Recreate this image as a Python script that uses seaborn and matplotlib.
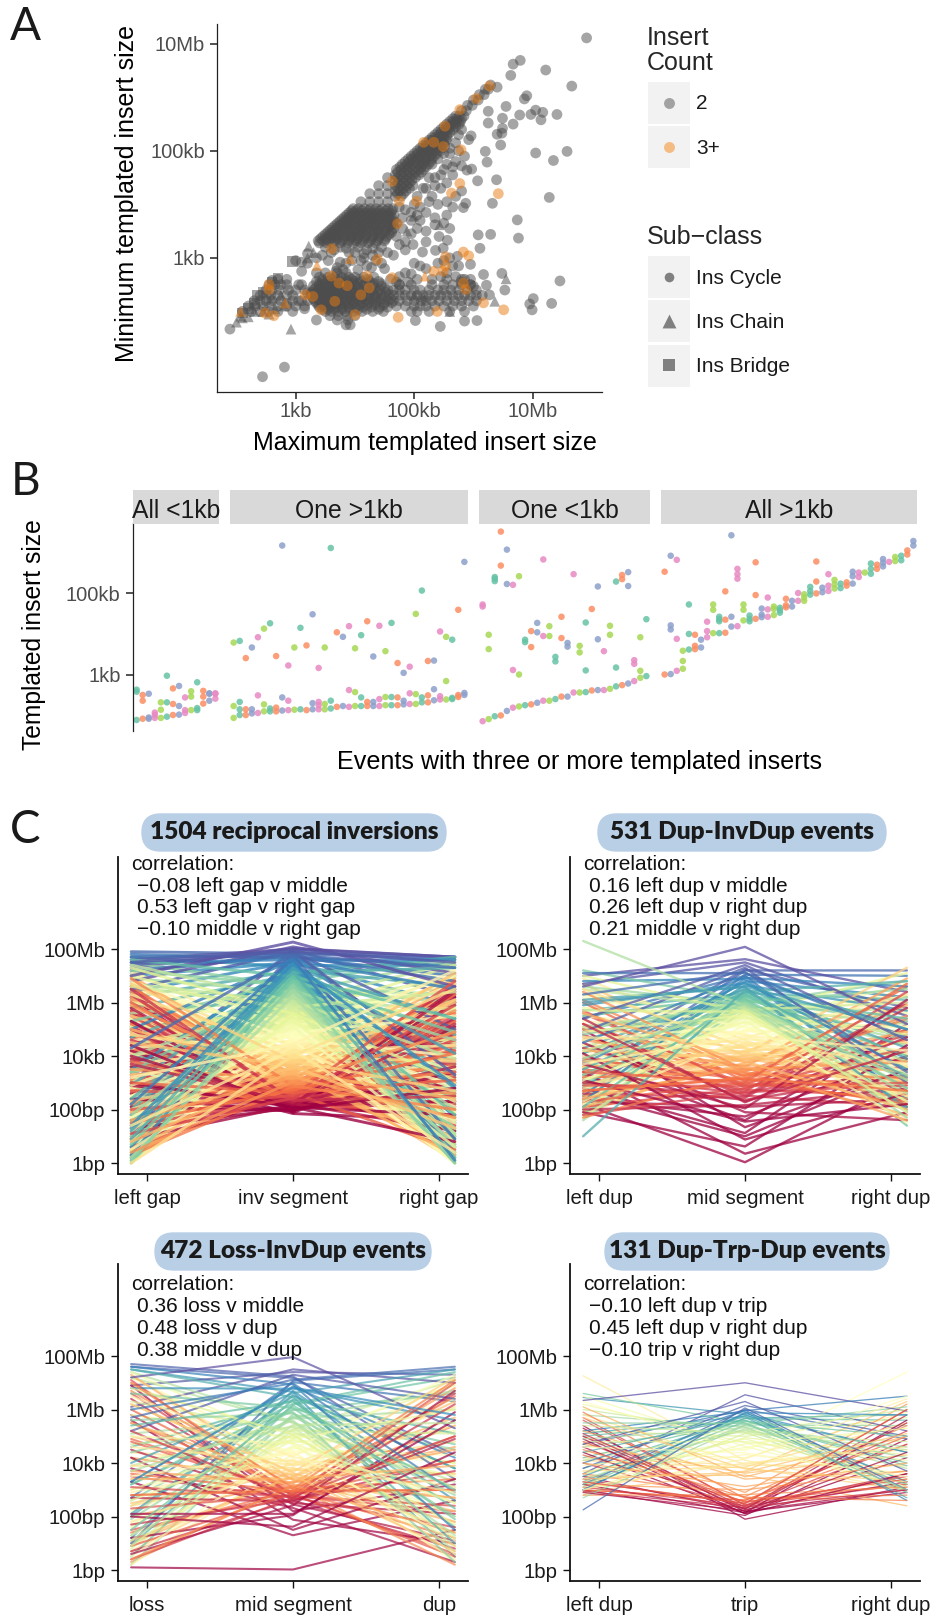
import numpy as np
import pandas as pd
import seaborn as sns
import matplotlib
matplotlib.use('Agg')
import matplotlib.pyplot as plt
from matplotlib.patches import FancyBboxPatch, Rectangle

# all sizes below are log10(bp)
# ---- panel A
far_x = [7.91,6.79,6.67,6.63,7.22,7.66,6.40,6.29,6.90,6.86,6.55,6.25,7.05,7.17,6.97,6.78,7.41,6.49,7.14,6.25,6.67,6.49,6.40,6.48,5.96,5.92,6.46,7.05,7.58,6.20,7.35,6.23,5.97,5.89,6.39,6.07,7.28,6.32,5.87,5.83,6.74,6.08,6.29,6.76,6.11,5.56,5.14,5.36,5.49,5.73,5.95,6.17,6.48,7.46,6.22,6.53,7.01,6.95,7.32,6.99,6.06,5.85,5.44,5.02,6.27,6.00,5.79,1.89,2.81,2.44]
far_y = [7.11,6.69,6.62,6.41,6.51,6.21,6.19,6.23,6.03,5.97,5.83,5.74,5.76,5.72,5.68,5.67,5.68,5.61,5.58,5.52,5.50,5.42,5.31,5.33,5.28,5.21,5.11,4.96,4.99,4.99,4.82,4.79,4.66,4.64,4.46,4.44,4.13,4.02,4.02,3.94,3.71,3.43,3.44,3.37,3.18,3.33,3.11,3.14,3.18,3.03,2.88,2.69,2.71,2.57,2.49,2.40,2.24,2.14,2.15,2.03,1.83,1.82,1.72,1.83,2.31,2.47,2.55,1.67,0.96,0.78]
scatter_x = [5.2,5.35,5.5,5.7,5.8,5.85,5.6,5.75,5.3,5.45,5.55,5.65,5.1,5.25,5.4,5.55,5.7,5.8,5.05,5.2,5.35,5.55,5.65,4.95,5.05,5.2,5.35,5.5,4.8,4.95,4.7,4.75,4.85,4.98,5.2,5.42,5.6,4.45,4.3,4.2,4.05,3.9,3.75,4.55,4.65,4.85,3.6,3.45,3.75,3.85,3.7,4.1,4.15,4.2,4.35,4.45,4.5,4.05,3.55,3.35,3.2,3.1,4.75,4.85,4.95,5.0,5.1,5.2,5.45,5.55,5.65,5.5,5.6,5.75,5.7,5.85,5.95,5.4,5.8,5.88,5.9,5.98,6.0,6.08,6.1,6.18,6.2,6.25,2.6,3.0,3.1,3.2,
             5.3,5.4,5.5,5.6,5.7,5.75,5.8,5.55,5.45,5.65,5.35,5.25,5.15,5.05,5.0,4.85,4.75,4.8,4.7,4.95,5.1,
             3.5,3.65,3.85,4.0,4.15,4.3,4.4,3.95,4.28,3.68,3.8,
             2.75,2.95,3.05,3.15,2.85,3.2,
             4.7,4.6,4.75,4.9,5.05,5.3,5.55,5.8,5.95]
scatter_y = [4.3,4.5,4.65,4.8,4.72,4.9,4.95,5.0,4.15,4.3,4.4,4.55,3.95,4.05,4.0,4.05,4.15,4.25,3.8,3.85,3.75,3.8,3.95,3.7,3.55,3.5,3.62,3.65,3.55,3.45,3.4,3.25,3.3,3.25,3.3,3.4,3.55,3.2,3.18,3.15,3.2,3.1,3.2,3.1,3.05,3.15,3.1,3.05,2.92,2.9,2.82,2.95,3.0,2.85,2.95,2.9,2.8,2.78,2.95,3.0,2.9,2.75,2.65,2.72,2.7,2.9,2.85,2.8,2.65,2.72,2.85,2.95,3.0,2.85,2.65,2.6,2.5,2.9,5.75,5.75,5.85,5.85,5.95,5.95,6.05,6.05,6.15,6.15,2.58,2.95,2.92,3.08,
             4.75,4.85,4.95,5.05,5.15,5.3,5.4,4.75,4.55,4.7,4.35,4.5,4.3,4.15,4.0,3.9,3.95,3.75,3.65,3.85,3.7,
             3.2,3.15,3.18,3.1,3.08,3.05,3.1,2.95,2.82,2.75,2.78,
             2.5,2.3,2.2,2.05,2.15,2.35,
             2.55,2.6,2.5,2.55,2.6,2.6,2.6,2.6,2.6]

# dense clouds: one list of x values per y level
cloud_y = [3.28,3.36,3.44,3.52,3.60,3.68,3.76,3.84,3.92,
           4.05,4.2,4.35,4.5,
           4.15,4.25,4.35,4.45,4.55,4.65,4.75,4.85,4.95,5.05,5.15,5.25,5.35,5.45,5.55,5.65,
           2.72,2.64,2.56,2.48,2.40,2.32,2.24,2.16,2.08,2.0,1.92,1.84,1.75,
           2.5,2.4,2.3,2.2,2.1,2.0,
           2.6,2.5,2.4,2.3,2.2,2.1,2.0,
           3.32,3.40,3.48,3.56,3.64,3.72,3.80,3.88,
           4.2,4.3,4.4,4.5,4.6,4.7,4.8,4.9,5.0,5.1,5.2,5.3,5.4,5.5,5.6,
           2.6,2.52,2.44,2.36,2.28,2.2,2.12,2.04]
cloud_x = [[3.40,3.52,3.62,3.75,3.88,3.98,4.1,4.22,4.35],
           [3.42,3.5,3.6,3.7,3.82,3.93,4.04,4.16,4.28,4.4,4.52],
           [3.5,3.58,3.68,3.78,3.9,4.0,4.1,4.2,4.33,4.45,4.58],
           [3.58,3.66,3.76,3.86,3.96,4.08,4.18,4.3,4.4,4.52,4.62],
           [3.66,3.74,3.84,3.94,4.06,4.15,4.26,4.36,4.48,4.6],
           [3.74,3.82,3.92,4.02,4.12,4.24,4.34,4.44,4.56,4.66],
           [3.82,3.9,4.0,4.1,4.2,4.3,4.42,4.52,4.62],
           [3.9,3.98,4.08,4.18,4.28,4.38,4.48,4.6],
           [3.97,4.06,4.16,4.26,4.36,4.46,4.56,4.64],
           [4.1,4.25,4.4,4.55],[4.25,4.4,4.55],[4.4,4.55],[4.55],
           [4.68,4.78],[4.68,4.76,4.86],[4.68,4.78,4.88,4.98],[4.68,4.76,4.86,4.96],
           [4.68,4.78,4.88,4.98,5.08],[4.7,4.78,4.88,4.98,5.08,5.16],[4.8,4.88,4.96,5.06,5.14,5.24],
           [4.9,4.96,5.04,5.12,5.2,5.3],[5.0,5.06,5.14,5.22,5.3,5.38],[5.1,5.16,5.22,5.3,5.38,5.46],
           [5.2,5.26,5.32,5.4,5.5],[5.3,5.36,5.42,5.5,5.56],[5.4,5.46,5.52,5.6],
           [5.5,5.56,5.62,5.7],[5.6,5.66,5.72,5.78],[5.7,5.76,5.84],
           [3.35,3.5,3.7,3.85],
           [3.4,3.55,3.66,3.78,3.9,4.0,4.15,4.32],
           [3.35,3.45,3.55,3.65,3.75,3.87,3.98,4.1,4.25,4.4],
           [3.3,3.4,3.5,3.6,3.7,3.8,3.9,4.02,4.14,4.3,4.45],
           [3.3,3.38,3.48,3.58,3.66,3.76,3.86,3.96,4.06,4.18,4.3,4.42,4.56],
           [3.25,3.33,3.42,3.5,3.6,3.68,3.78,3.88,3.98,4.08,4.2,4.32,4.44,4.58],
           [3.3,3.38,3.46,3.54,3.64,3.72,3.82,3.92,4.02,4.12,4.22,4.34,4.46,4.6],
           [3.35,3.43,3.52,3.6,3.7,3.8,3.9,4.0,4.12,4.24,4.36,4.5,4.62],
           [3.4,3.5,3.58,3.68,3.78,3.9,4.02,4.14,4.28,4.42,4.55],
           [3.5,3.6,3.72,3.84,3.98,4.12,4.3,4.48],
           [3.58,3.72,3.86,4.0],[3.35,3.7,3.88],[3.85,3.92],
           [4.75,4.95,5.3,5.5,5.65,5.8,5.95],
           [4.65,4.75,4.85,5.0,5.1,5.25,5.4,5.5,5.62,5.75,5.9,6.05],
           [4.65,4.75,4.85,4.95,5.05,5.15,5.25,5.35,5.45,5.55,5.65,5.75,5.85,5.95,6.05,6.15],
           [4.65,4.75,4.88,5.0,5.12,5.2,5.3,5.42,5.55,5.68,5.8,5.92,6.05],
           [4.7,4.85,5.0,5.1,5.2,5.35,5.5,5.65,5.8,6.0],
           [4.95,5.05,5.25,5.6,5.85],
           [2.7,2.85],[2.55,2.65,2.85,3.05,3.1],[2.5,2.6,2.72,2.88,3.0,3.15],[2.4,2.5,2.58,2.7,2.85],
           [2.3,2.4,2.5,2.6,2.75,2.95,3.1,3.2],[2.2,2.32,2.45,2.55,2.7,2.85,3.0,3.15],[2.1,2.25,2.4,2.55,2.7,2.95],
           [3.38,3.46,3.56,3.66,3.78,3.9,4.02,4.14,4.26,4.38,4.5],
           [3.46,3.54,3.64,3.74,3.85,3.96,4.06,4.18,4.3,4.42,4.54],
           [3.54,3.62,3.72,3.82,3.94,4.04,4.14,4.26,4.38,4.5,4.62],
           [3.62,3.7,3.8,3.9,4.02,4.12,4.22,4.34,4.44,4.56,4.66],
           [3.7,3.78,3.88,3.98,4.1,4.2,4.3,4.42,4.54,4.64],
           [3.78,3.86,3.96,4.06,4.16,4.28,4.38,4.48,4.6],
           [3.86,3.94,4.04,4.14,4.24,4.34,4.46,4.56,4.66],
           [3.94,4.02,4.12,4.22,4.32,4.42,4.52,4.62],
           [4.72,4.82],[4.72,4.82,4.92],[4.72,4.82,4.92],[4.72,4.82,4.92,5.02],[4.72,4.82,4.92,5.02,5.12],
           [4.76,4.84,4.92,5.02,5.12,5.2],[4.85,4.92,5.0,5.1,5.18,5.28],[4.95,5.02,5.1,5.18,5.26,5.34],
           [5.05,5.12,5.2,5.28,5.36,5.44],[5.15,5.2,5.28,5.36,5.44,5.52],[5.25,5.3,5.38,5.46,5.54],
           [5.35,5.42,5.48,5.56],[5.45,5.52,5.58,5.66],[5.55,5.62,5.68,5.76],[5.65,5.72,5.8],
           [3.45,3.6,3.72,3.84,3.95,4.08,4.22],
           [3.4,3.5,3.6,3.7,3.82,3.94,4.04,4.18,4.32,4.44],
           [3.34,3.44,3.54,3.64,3.74,3.84,3.94,4.06,4.2,4.34,4.5],
           [3.28,3.36,3.46,3.54,3.64,3.72,3.82,3.92,4.02,4.14,4.26,4.38,4.52],
           [3.28,3.36,3.44,3.54,3.62,3.72,3.82,3.92,4.02,4.12,4.24,4.36,4.5],
           [3.32,3.4,3.5,3.58,3.68,3.76,3.86,3.96,4.06,4.18,4.3,4.42,4.56],
           [3.38,3.46,3.56,3.64,3.74,3.86,3.96,4.08,4.2,4.34,4.48],
           [3.45,3.55,3.66,3.78,3.9,4.05,4.2,4.4]]

tri_x = [2.0,2.1,2.2,2.3,2.45,2.55,2.65,2.8,2.6,2.75,3.3,3.2,2.92,3.22,4.99,5.43,4.88,6.55,6.36,5.6,2.07,5.0,5.15]
tri_y = [1.8,1.88,1.9,2.0,2.0,1.95,2.05,2.1,2.25,2.3,3.1,3.0,1.67,3.22,3.78,3.62,3.5,2.61,2.19,2.0,1.91,2.3,2.28]
square_x = [2.1,2.2,2.3,2.35,2.45,2.6,2.95,2.7]
square_y = [1.97,2.05,2.15,2.3,2.35,2.55,2.94,2.62]
orange_x = [6.27,6.05,5.77,5.52,5.33,5.16,5.49,5.79,4.63,4.75,5.04,5.77,6.42,5.63,4.72,3.61,4.38,5.53,5.83,5.92,5.49,5.33,5.53,4.63,4.2,3.6,3.73,3.87,4.1,3.29,3.16,3.66,3.43,4.0,4.73,5.39,6.17,6.51,2.55,2.55,2.63,2.48,5.83,5.87,4.24]
orange_y = [6.21,5.98,5.77,5.46,5.16,5.16,5.08,5.02,4.43,4.06,4.06,4.39,4.2,4.21,3.64,3.17,2.97,3.02,3.11,3.04,2.75,2.75,2.85,2.63,2.66,2.66,2.53,2.48,2.31,2.28,2.31,2.19,2.03,1.94,1.89,2.0,2.16,2.03,2.41,2.5,1.92,1.97,2.53,2.41,2.44]
orange_tri_x = [3.36,3.92,5.18,2.07,2.82]
orange_tri_y = [2.86,2.99,2.66,2.0,2.16]

# ---- panel B: one list per event
b_all_small = [[2.64,2.59,1.90],[2.51,2.37,1.93],[2.54,1.96,1.93],[2.08,2.02,1.95],[2.33,2.15,1.95],
               [2.98,2.33,1.98],[2.67,2.29,2.02],[2.73,2.24,2.03],[2.45,2.14,2.07],[2.60,2.47,2.14],
               [2.82,2.19,2.14],[2.61,2.47,2.30],[2.55,2.54,2.37],[2.55,2.54,2.42]]
b_one_big = [[3.79,2.24,1.95],[3.83,2.34,2.16,2.02],[3.41,2.16,2.02],[3.67,2.16,2.06],[3.92,2.50,2.07],
             [4.13,2.28,2.11],[4.26,2.18,2.11],[3.46,2.20,2.11],[6.16,2.45,2.13],[3.23,2.37,2.14],
             [3.67,2.15],[4.15,2.16],[3.72,2.14],[4.48,2.31,2.16],[3.17,2.34,2.26,2.16],
             [3.67,2.29,2.16],[6.10,2.37,2.18],[4.04,2.22],[3.93,2.24],[4.19,2.63,2.22],
             [3.65,2.58,2.24],[3.97,2.45,2.24],[4.31,2.34,2.24],[3.45,2.34,2.24],[4.20,2.41,2.24],
             [3.58,2.46,2.26],[4.27,2.46,2.26],[3.29,2.45,2.26],[3.05,2.37,2.28],[3.20,2.55,2.29],
             [4.49,2.53,2.29],[5.06,2.45,2.33],[3.34,2.50,2.33],[3.35,2.65,2.38],[4.06,2.48,2.40],
             [3.93,2.85,2.40],[3.86,2.44,2.41],[4.59,2.51,2.46],[5.76,2.56,2.51]]
b_one_small = [[4.72,4.67,1.87],[3.98,3.63,1.92],[5.39,5.35,5.29,1.99],[6.50,5.67,2.01],[6.06,5.22,2.12],
               [5.20,3.12,2.20],[5.41,3.01,2.23],[3.86,3.80,2.26],[4.07,3.68,2.28],[4.27,4.04,2.32],
               [5.82,3.95,2.37],[4.19,3.95,2.37],[3.44,3.33,2.41],[4.42,3.90,2.47],[3.78,3.69,2.47],
               [5.46,2.57],[3.71,3.55,2.57],[4.28,3.11,2.58],[4.61,2.62],[5.16,3.87,2.63],
               [3.58,2.63],[4.20,3.98,2.66],[5.28,3.18,2.72],[5.44,5.34,2.75],[5.51,5.17,2.79],
               [3.36,3.27,2.85],[3.92,3.10,2.93],[4.36,2.97]]
b_all_big = [[5.52,3.01],[5.91,4.21,4.11,3.02],[5.81,3.88,3.10],[3.59,3.34,3.15],[4.72,4.00,3.62],
             [3.98,3.71,3.63],[3.86,3.67],[4.30,4.07,3.92],[4.72,4.59,4.02],[4.42,4.36,4.31,4.02],
             [5.04,4.35,4.03],[6.41,4.42,4.18],[5.59,5.46,5.35,4.19],[4.72,4.59,4.33],[4.45,4.37,4.31],
             [5.75,4.95,4.37],[4.62,4.47,4.41],[4.89,4.60,4.42],[4.67,4.61,4.46],[4.64,4.58,4.52],
             [4.86,4.70,4.65],[4.81,4.67],[5.00,4.81],[4.97,4.89,4.81],[5.15,5.05,4.96],
             [5.77,5.28,4.99],[5.13,5.02],[5.46,5.18,5.05],[5.32,5.21,5.11],[5.23,5.12],
             [5.26,5.18],[5.52,5.41,5.23],[5.50,5.39],[5.50],[5.72,5.59,5.47],
             [5.69,5.59],[5.83,5.74,5.65],[5.76],[5.88,5.78],[5.91,5.80],[6.04,5.94],[6.27,6.16]]
b_titles = ['All <1kb', 'One >1kb', 'One <1kb', 'All >1kb']

# ---- panel C: lines get their colour from the rank of the middle value
inv_mid = [1.85,1.88,1.95,2.00,2.03,2.06,2.09,2.12,2.15,2.18,
           2.20,2.23,2.26,2.29,2.31,2.34,2.37,2.40,2.43,2.46,
           2.49,2.52,2.55,2.58,2.61,2.64,2.67,2.70,2.73,2.77,
           2.80,2.84,2.88,2.92,2.96,3.00,3.04,3.08,3.12,3.17,
           3.22,3.27,3.32,3.37,3.42,3.47,3.52,3.57,3.62,3.67,
           3.72,3.77,3.82,3.87,3.92,3.97,4.02,4.07,4.12,4.17,
           4.22,4.27,4.32,4.38,4.44,4.50,4.56,4.62,4.68,4.74,
           4.80,4.86,4.92,4.98,5.04,5.10,5.16,5.22,5.28,5.34,
           5.40,5.46,5.52,5.58,5.64,5.70,5.76,5.82,5.88,5.94,
           6.00,6.05,6.10,6.15,6.20,6.25,6.30,6.35,6.40,6.45,
           6.50,6.55,6.60,6.65,6.70,6.74,6.78,6.82,6.86,6.90,
           6.94,6.98,7.02,7.06,7.10,7.14,7.18,7.22,7.26,7.30,
           7.34,7.38,7.42,7.46,7.50,7.54,7.58,7.62,7.66,7.70,
           7.74,7.78,7.82,7.86,7.90,7.94,7.98,8.02,8.08,8.26,
           1.92,1.97,2.02,2.05,2.08,2.11,2.14,2.17,2.19,2.22,
           2.24,2.27,2.3,2.33,2.35,2.38,2.41,2.44,2.47,2.5,
           2.54,2.59,2.63,2.68,2.72,2.78,2.83,2.9,2.98,3.06,
           3.14,3.24,3.34,3.44,3.54,3.64,3.74,3.84,3.94,4.04,
           4.14,4.24,4.34,4.46,4.58,4.7,4.82,4.94,5.06,5.18,
           5.3,5.42,5.54,5.66,5.78,5.9,6.02,6.12,6.22,6.32,
           6.42,6.52,6.62,6.72,6.8,6.88,6.96,7.04,7.12,7.2,
           7.28,7.36,7.44,7.52,7.6,7.68,7.76,7.84,7.92,8.0]
inv_left = [3.4,5.6,2.1,4.4,6.2,1.3,3.0,5.1,0.9,4.0,
            2.6,5.8,3.7,1.8,4.6,6.5,2.9,4.9,1.1,6.6,
            3.3,2.0,5.3,0.6,3.8,6.0,2.4,4.3,1.5,5.7,
            3.1,0.3,6.9,4.7,2.2,5.9,0.4,4.2,6.4,3.5,
            1.6,7.0,2.7,5.0,0.8,3.9,6.1,1.9,4.5,0.2,
            5.5,2.3,6.7,3.6,1.0,4.8,0.0,5.2,2.8,6.3,
            1.4,4.1,7.2,0.5,3.2,5.4,2.5,6.8,0.1,3.7,
            4.6,1.7,5.8,0.7,7.1,2.9,0.0,4.0,6.0,1.2,
            3.4,5.1,0.3,7.3,2.1,0.9,4.4,6.6,1.5,0.0,
            3.0,7.4,0.6,5.6,2.4,0.2,4.2,1.1,6.9,1.8,
            0.4,3.3,7.5,0.1,2.6,1.3,5.3,0.7,3.8,0.0,
            1.6,7.6,0.5,4.7,2.0,0.9,6.2,0.3,2.9,1.2,
            7.7,0.6,3.5,1.4,7.0,0.2,5.0,2.2,7.8,0.8,
            7.2,4.3,7.9,1.0,6.5,7.5,3.0,7.3,6.8,7.0,
            4.7,2.4,6.1,3.6,5.3,1.6,4.2,2.9,6.4,3.9,
            5.0,2.2,4.5,6.3,3.2,5.7,1.4,3.8,5.5,2.7,
            4.1,6.0,3.0,5.2,1.9,4.8,6.6,3.5,2.3,5.6,
            0.9,4.4,6.2,2.6,0.5,5.4,3.3,1.2,4.9,6.8,
            2.0,0.3,3.7,5.9,1.3,0.1,4.3,6.5,2.5,0.6,
            7.0,3.1,0.8,5.1,1.7,0.2,6.7,2.8,4.0,0.4,
            1.0,2.2,7.2,0.6,3.4,1.5,0.1,5.8,2.4,0.7,
            1.3,3.6,0.3,6.4,7.5,1.8,7.7,7.1,7.4,7.6]
inv_right = [1.6,4.3,6.0,2.8,3.5,5.4,0.8,4.8,2.3,6.4,
             3.1,1.2,5.2,3.9,6.7,2.5,4.5,3.2,5.9,1.4,
             4.6,6.8,2.2,3.7,0.5,5.0,2.9,6.3,4.1,1.0,
             5.6,3.4,2.0,6.6,6.1,2.6,4.9,0.7,3.6,5.7,
             1.7,4.2,6.9,0.3,2.4,5.3,3.0,7.1,1.3,4.7,
             0.1,6.0,2.7,5.1,0.9,3.8,6.5,1.9,7.0,4.4,
             0.4,3.3,5.8,1.5,7.2,2.1,0.0,4.0,6.2,0.8,
             2.8,5.5,1.1,7.3,3.5,0.2,4.8,6.7,2.3,0.6,
             5.2,1.6,7.4,3.1,0.0,4.5,1.0,6.4,2.5,0.3,
             7.5,3.9,0.7,5.7,1.3,0.1,3.0,7.6,2.0,4.6,
             0.5,6.0,1.8,0.0,3.6,7.7,1.1,4.9,0.3,2.7,
             0.9,5.4,1.5,3.2,7.7,0.2,2.2,6.6,0.6,4.1,
             1.2,7.4,0.4,2.9,5.9,1.7,7.6,0.1,3.7,7.0,
             6.8,7.3,3.4,7.7,5.0,7.5,6.2,7.7,7.1,6.6,
             5.1,3.4,2.6,6.2,1.8,4.6,3.0,6.5,2.1,5.7,
             3.6,6.0,2.3,4.9,1.5,3.8,5.5,2.7,6.3,4.2,
             1.2,5.3,3.1,6.6,4.4,2.0,3.3,5.9,1.7,4.7,
             6.4,2.5,0.6,5.0,3.9,1.4,6.1,0.8,3.0,5.6,
             0.2,4.1,6.7,1.6,0.0,5.2,2.9,0.5,7.0,3.5,
             1.9,0.4,5.8,3.2,0.1,6.9,1.1,4.3,0.7,2.4,
             0.3,6.3,1.3,2.6,0.0,4.8,1.8,0.6,7.3,3.7,
             5.4,1.0,2.8,0.2,6.5,7.4,0.9,7.6,3.3,7.7]

dup_mid = [0.03,0.35,0.62,0.88,1.12,1.34,1.55,1.74,1.9,2.04,
           2.16,2.27,2.36,2.44,2.52,2.6,2.67,2.74,2.81,2.88,
           2.94,3.0,3.06,3.12,3.18,3.24,3.3,3.36,3.42,3.48,
           3.54,3.6,3.67,3.74,3.8,3.87,3.94,4.0,4.07,4.14,
           4.2,4.28,4.36,4.44,4.52,4.6,4.68,4.76,4.84,4.92,
           5.0,5.08,5.16,5.24,5.32,5.4,5.46,5.52,5.58,5.63,
           5.68,5.72,5.76,5.8,5.84,5.88,5.92,5.96,6.0,6.05,
           6.1,6.16,6.22,6.28,6.34,6.4,6.46,6.52,6.58,6.65,
           6.72,6.8,6.88,6.96,7.04,7.14,7.24,7.4,7.62,8.08,
           1.0,1.6,2.1,2.3,2.5,2.65,2.78,2.9,3.03,3.15,
           3.27,3.39,3.51,3.63,3.77,3.9,4.03,4.17,4.32,4.48,
           4.64,4.8,4.96,5.12,5.28,5.44,5.55,5.66,5.7,5.74,
           5.78,5.82,5.86,5.9,5.94,5.98,6.02,6.08,6.14,6.25,
           6.36,6.48,6.6,6.75,6.92,7.0,7.1,7.2,7.3,7.5]
dup_left = [2.2,3.4,1.9,4.1,2.8,5.0,3.1,2.4,4.5,3.7,
            2.0,5.4,3.0,2.6,4.8,3.3,1.8,4.0,5.7,2.9,
            3.5,2.3,6.0,3.9,2.7,5.2,1.7,4.3,3.2,6.4,
            2.5,4.6,3.6,2.1,5.6,3.0,4.2,6.7,2.4,3.8,
            1.8,5.1,3.4,2.9,4.7,6.9,2.2,3.7,5.5,4.0,
            2.6,6.2,1.9,4.4,3.1,5.8,2.3,4.9,3.6,7.0,
            2.0,4.2,3.3,6.5,2.7,8.3,1.6,3.9,5.0,2.4,
            7.2,3.0,4.6,2.1,5.7,3.5,1.0,4.1,6.1,2.8,
            5.9,3.2,6.8,4.5,2.5,6.3,3.8,5.4,7.0,6.6,
            2.6,3.8,2.3,5.2,3.0,4.3,2.1,5.6,3.4,2.7,
            4.7,6.1,3.2,2.4,5.0,3.6,1.9,4.4,6.5,2.8,
            3.9,5.3,2.2,4.6,3.1,6.3,2.5,5.7,1.7,4.1,
            3.0,2.0,5.1,3.5,6.6,2.6,4.8,1.8,3.3,5.5,
            2.9,4.3,6.0,3.7,2.3,5.4,7.1,3.1,4.9,6.7]
dup_right = [3.1,1.9,4.4,2.6,5.2,3.5,2.2,4.0,1.6,6.1,
             2.8,4.7,3.3,5.8,2.1,3.9,6.4,2.5,4.3,3.0,
             5.0,2.3,3.6,6.6,2.7,4.6,3.2,1.8,5.5,3.8,
             2.4,6.9,3.1,4.9,2.0,5.3,3.4,4.1,7.3,2.6,
             4.5,1.7,5.9,3.0,3.7,2.2,6.3,4.2,2.8,5.1,
             3.3,2.5,6.7,4.0,1.5,5.6,3.6,2.3,7.1,4.8,
             2.9,6.0,3.5,1.9,5.2,2.6,4.4,3.1,6.5,2.1,
             4.7,1.4,3.8,5.4,2.7,6.8,3.2,4.3,2.0,5.7,
             3.9,6.2,2.4,5.0,7.0,3.4,5.8,4.6,6.4,5.2,
             3.5,5.0,2.4,4.2,6.0,2.9,4.8,3.2,6.7,2.2,
             5.4,2.7,3.9,1.6,5.9,3.0,4.5,6.3,2.5,3.6,
             4.1,2.0,6.5,3.4,5.1,2.6,4.9,1.9,3.8,6.2,
             2.3,5.7,3.1,4.6,1.7,6.8,3.3,5.3,2.8,4.0,
             6.1,2.1,5.0,3.5,6.6,2.4,4.7,7.2,3.0,5.5]

loss_mid = [0.02,1.3,1.62,1.88,2.05,2.2,2.32,2.42,2.5,2.56,
            2.6,2.64,2.68,2.71,2.74,2.77,2.8,2.83,2.86,2.9,
            2.94,2.98,3.02,3.07,3.12,3.18,3.24,3.3,3.36,3.42,
            3.48,3.54,3.6,3.67,3.74,3.82,3.9,3.98,4.06,4.14,
            4.22,4.3,4.38,4.46,4.54,4.62,4.7,4.78,4.86,4.94,
            5.02,5.1,5.18,5.26,5.34,5.42,5.5,5.58,5.66,5.74,
            5.82,5.9,5.98,6.06,6.14,6.22,6.3,6.38,6.46,6.54,
            6.62,6.7,6.78,6.86,6.94,7.02,7.12,7.24,7.5,7.96,
            1.5,2.1,2.45,2.62,2.7,2.76,2.82,2.88,2.96,3.05,
            3.15,3.27,3.39,3.51,3.64,3.78,3.94,4.1,4.26,4.42,
            4.58,4.74,4.9,5.06,5.22,5.38,5.54,5.7,5.86,6.02,
            6.18,6.34,6.5,6.66,6.82,6.98,7.08,7.18,7.3,7.4]
loss_left = [0.1,3.3,2.0,5.6,1.2,6.9,3.8,0.6,4.5,2.7,
             6.4,1.7,5.2,0.4,3.1,7.1,2.3,4.8,0.9,6.0,
             3.6,1.4,5.5,2.8,6.7,0.3,4.2,2.0,7.3,3.4,
             1.0,5.0,2.5,6.2,0.7,3.9,7.0,1.8,4.6,2.9,
             6.5,1.3,3.5,5.3,0.5,2.2,7.4,4.1,1.6,5.8,
             3.0,0.8,6.3,2.4,4.7,1.1,7.2,3.7,5.1,1.9,
             0.2,4.4,2.6,6.6,1.5,3.2,5.4,0.9,7.5,2.1,
             4.0,1.2,6.8,3.3,7.6,2.7,5.7,7.7,6.1,7.2,
             4.2,2.1,5.8,0.7,3.5,6.6,1.5,4.9,2.8,7.0,
             0.4,3.7,5.5,1.1,6.2,2.4,4.4,0.2,7.2,3.0,
             1.7,5.0,2.6,6.8,0.9,3.9,7.4,1.3,5.6,3.2,
             0.5,4.6,2.0,7.5,3.3,6.0,1.0,7.6,5.2,6.9]
loss_right = [1.5,2.6,4.4,1.0,5.9,3.2,0.3,6.7,2.1,4.9,
              0.8,3.7,6.2,1.6,5.0,2.4,7.0,0.5,4.1,3.0,
              6.5,1.2,3.4,5.4,0.2,2.7,6.8,4.6,1.8,3.9,
              5.7,0.7,2.2,7.2,3.6,1.4,4.8,6.1,2.9,0.4,
              3.1,6.4,1.1,4.3,7.3,2.0,0.6,5.2,3.5,6.9,
              1.7,4.0,2.5,7.1,0.9,5.5,3.3,1.3,6.0,2.8,
              4.5,0.3,6.6,1.9,3.0,7.4,2.3,5.1,1.0,3.8,
              7.5,2.6,5.6,4.2,1.5,6.3,7.6,3.4,7.0,5.3,
              3.4,5.6,1.1,4.1,6.6,2.2,0.6,5.0,3.0,7.1,
              1.4,4.5,2.7,6.3,0.9,3.6,5.4,1.8,7.0,0.3,
              4.0,2.5,6.0,1.2,5.1,3.1,0.7,6.7,2.0,4.7,
              7.2,1.6,3.8,0.5,5.8,2.9,7.5,4.3,6.4,7.3]

trp_mid = [1.9,2.04,2.1,2.14,2.18,2.22,2.26,2.3,2.35,2.4,
           2.44,2.5,2.56,2.62,2.68,2.75,2.82,2.9,3.0,3.12,
           3.48,3.55,3.62,3.7,3.78,3.85,3.92,4.0,4.1,4.2,
           4.32,4.45,4.52,4.62,4.72,4.8,4.9,5.0,5.1,5.15,
           5.2,5.28,5.35,5.4,5.45,5.5,5.55,5.6,5.66,5.72,
           5.78,5.82,5.88,5.92,5.96,6.0,6.06,6.3,6.55,7.0,
           2.12,2.2,2.28,2.33,2.38,2.42,2.48,2.53,2.6,2.72,
           3.4,3.66,3.82,3.96,4.15,4.38,4.58,4.76,4.95,5.12,
           5.24,5.32,5.42,5.48,5.58,5.68,5.75,5.85,5.98,6.15]
trp_left = [5.4,3.0,4.9,3.2,5.3,2.9,4.6,3.4,5.1,3.1,
            5.6,3.3,4.3,3.0,5.9,3.6,2.8,5.0,3.2,4.0,
            6.1,3.5,4.7,2.9,5.7,3.7,4.2,3.1,7.26,4.4,
            3.3,6.3,3.9,6.5,3.0,4.8,3.6,5.2,2.8,6.0,
            4.1,3.4,5.8,2.7,4.6,6.6,3.2,5.0,3.8,4.4,
            3.5,6.45,3.0,5.2,4.0,3.2,2.25,4.7,3.6,6.34,
            4.4,3.5,5.0,2.95,4.0,5.7,3.3,4.8,3.0,4.5,
            5.2,3.4,4.1,5.8,3.0,4.6,3.7,6.2,3.2,5.4,
            3.6,4.9,3.1,5.5,4.2,3.3,5.1,3.0,4.7,3.8]
trp_right = [3.1,4.9,3.6,5.6,2.9,4.4,3.3,5.8,3.0,5.2,
             3.5,6.0,3.2,4.7,2.8,5.4,3.1,6.2,3.7,4.0,
             5.0,2.4,4.3,6.3,3.3,5.5,3.9,4.6,3.0,5.9,
             3.6,7.4,6.5,3.1,5.3,4.1,3.4,5.7,4.8,3.0,
             4.5,3.8,2.9,4.2,6.1,3.2,5.0,4.0,5.6,2.7,
             4.4,3.3,5.8,2.6,6.5,4.9,3.0,3.7,5.2,5.94,
             4.2,3.0,5.5,3.6,4.7,3.2,6.0,3.4,5.0,2.6,
             3.7,5.1,3.0,4.5,6.4,3.5,5.3,3.1,4.3,6.0,
             3.2,4.6,5.4,3.0,3.9,5.8,3.3,4.4,2.9,5.0]

size_ticks = [1, 100, 1e4, 1e6, 1e8]
size_labels = ['1bp', '100bp', '10kb', '1Mb', '100Mb']

sns.set_style('ticks')
plt.rcParams['font.family'] = ['Liberation Sans', 'DejaVu Sans']

W, H = 937, 1616
fig = plt.figure(figsize=(W / 100, H / 100), dpi=100)


def add_ax(x0, y0, x1, y1):
    return fig.add_axes([x0 / W, 1 - y1 / H, (x1 - x0) / W, (y1 - y0) / H])


# ---- A
rows = []
for x, y in zip(far_x + scatter_x, far_y + scatter_y):
    rows.append((x, y, '2', 'Ins Cycle'))
for y, xs in zip(cloud_y, cloud_x):
    for x in xs:
        rows.append((x, y, '2', 'Ins Cycle'))
for x, y in zip(tri_x, tri_y):
    rows.append((x, y, '2', 'Ins Chain'))
for x, y in zip(square_x, square_y):
    rows.append((x, y, '2', 'Ins Bridge'))
for x, y in zip(orange_x, orange_y):
    rows.append((x, y, '3+', 'Ins Cycle'))
for x, y in zip(orange_tri_x, orange_tri_y):
    rows.append((x, y, '3+', 'Ins Chain'))
df_a = pd.DataFrame(rows, columns=['xlog', 'ylog', 'count', 'subclass'])
df_a['max_size'] = 10 ** df_a['xlog']
df_a['min_size'] = 10 ** df_a['ylog']

ax = add_ax(217.5, 24, 602, 392)
sns.scatterplot(data=df_a, x='max_size', y='min_size', hue='count', style='subclass',
                palette={'2': '#4d4d4d', '3+': '#e97a10'},
                markers={'Ins Cycle': 'o', 'Ins Chain': '^', 'Ins Bridge': 's'},
                s=60, alpha=0.5, linewidth=0, legend=False, ax=ax)
ax.set_xscale('log')
ax.set_yscale('log')
ax.set_xlim(10 ** 1.68, 10 ** 8.17)
ax.set_ylim(10 ** 0.495, 10 ** 7.37)
ax.set_xticks([1e3, 1e5, 1e7])
ax.set_xticklabels(['1kb', '100kb', '10Mb'])
ax.set_yticks([1e3, 1e5, 1e7])
ax.set_yticklabels(['1kb', '100kb', '10Mb'])
ax.minorticks_off()
ax.tick_params(labelsize=14.5, labelcolor='#4d4d4d', color='#333333', width=1.2, length=5, pad=4)
ax.tick_params(axis='x', pad=2)
ax.set_xlabel('')
ax.set_ylabel('')
for s in ['left', 'bottom']:
    ax.spines[s].set_linewidth(0.9)
    ax.spines[s].set_color('#222222')
sns.despine(ax=ax)

# ---- B
b_lists = [b_all_small, b_one_big, b_one_small, b_all_big]
b_boxes = [(133, 219), (230, 468), (479, 650), (661, 917)]
set2 = sns.color_palette('Set2', 5)
event = 0
for i, (events, (x0, x1)) in enumerate(zip(b_lists, b_boxes)):
    first = event
    rows = []
    for values in events:
        for v in values:
            rows.append((event, 10 ** v, event % 5))
        event += 1
    df_b = pd.DataFrame(rows, columns=['event', 'size', 'colour'])
    ax = add_ax(x0, 523, x1, 731)
    sns.scatterplot(data=df_b, x='event', y='size', hue='colour', palette=set2,
                    s=22, alpha=0.85, linewidth=0, legend=False, ax=ax, clip_on=False)
    ax.set_yscale('log')
    ax.set_ylim(10 ** 1.63, 10 ** 6.71)
    ax.set_xlim(first - 0.6, event - 1 + 0.6)
    ax.set_xlabel('')
    ax.set_ylabel('')
    if i == 0:
        ax.set_xticks([])
        ax.set_yticks([1e3, 1e5])
        ax.set_yticklabels(['1kb', '100kb'])
        ax.minorticks_off()
        ax.tick_params(labelsize=14.5, labelcolor='#4d4d4d', color='#333333', width=1.2, length=5, pad=4)
        ax.spines['left'].set_linewidth(0.9)
        ax.spines['left'].set_color('#222222')
        for s in ['top', 'right', 'bottom']:
            ax.spines[s].set_visible(False)
        ax.patch.set_alpha(0)
    else:
        ax.axis('off')

# ---- C
c_panels = [
    (inv_left, inv_mid, inv_right, ['left gap', 'inv segment', 'right gap'], 118, 857, 2.1, 0.8,
     '1504 reciprocal inversions', (142, 446), 813, 0,
     ['\u22120.08 left gap v middle', '0.53 left gap v right gap', '\u22120.10 middle v right gap']),
    (dup_left, dup_mid, dup_right, ['left dup', 'mid segment', 'right dup'], 570, 857, 1.7, 0.75,
     '531 Dup-InvDup events', (598, 886), 813, 0,
     ['0.16 left dup v middle', '0.26 left dup v right dup', '0.21 middle v right dup']),
    (loss_left, loss_mid, loss_right, ['loss', 'mid segment', 'dup'], 118, 1264, 1.5, 0.7,
     '472 Loss-InvDup events', (155, 431), 1232, 14,
     ['0.36 loss v middle', '0.48 loss v dup', '0.38 middle v dup']),
    (trp_left, trp_mid, trp_right, ['left dup', 'trip', 'right dup'], 570, 1264, 0.95, 0.75,
     '131 Dup-Trp-Dup events', (605, 889), 1232, 14,
     ['\u22120.10 left dup v trip', '0.45 left dup v right dup', '\u22120.10 trip v right dup']),
]
overlay_text = []
for left, mid, right, names, x0, y0, lw, line_alpha, title, pill, pill_y, shift, corr in c_panels:
    rows = []
    for a, b, c in sorted(zip(left, mid, right), key=lambda t: t[1]):
        k = len(rows) // 3
        rows.append((k, -0.11, 10 ** a))
        rows.append((k, 1.0, 10 ** b))
        rows.append((k, 2.11, 10 ** c))
    df_c = pd.DataFrame(rows, columns=['line', 'pos', 'size'])
    n_lines = df_c['line'].nunique()
    ax = add_ax(x0, y0, x0 + 350, y0 + 317)
    sns.lineplot(data=df_c, x='pos', y='size', hue='line', palette='Spectral', units='line',
                 hue_norm=(n_lines * 0.05, n_lines - 1), estimator=None, linewidth=lw,
                 alpha=line_alpha, legend=False, ax=ax)
    # mix the drawing order so no colour sits on top of all the others
    n = len(ax.lines)
    for i, line in enumerate(ax.lines):
        line.set_zorder(2 + (i * 37 % n) / n)
    ax.set_yscale('log')
    ax.set_ylim(10 ** -0.41, 10 ** 11.44)
    ax.set_xlim(-0.2, 2.2)
    ax.set_yticks(size_ticks)
    ax.set_yticklabels(size_labels)
    ax.set_xticks([0, 1, 2])
    ax.set_xticklabels(names)
    ax.minorticks_off()
    ax.tick_params(labelsize=14.7, labelcolor='#1a1a1a', color='#111111', width=1.0, length=5, pad=4)
    ax.tick_params(axis='x', pad=6)
    ax.set_xlabel('')
    ax.set_ylabel('')
    for s in ['left', 'bottom']:
        ax.spines[s].set_linewidth(1.3)
        ax.spines[s].set_color('#111111')
    sns.despine(ax=ax)
    overlay_text.append((x0, y0, title, pill, pill_y, shift, corr))

# ---- text and boxes in pixel positions
over = fig.add_axes([0, 0, 1, 1], zorder=10)
over.set_xlim(0, W)
over.set_ylim(H, 0)
over.axis('off')
over.patch.set_alpha(0)

for label, x, y in [('A', 10, 27), ('B', 11, 482), ('C', 10, 830)]:
    over.text(x, y, label, fontsize=33, family='Lato', color='#1a1a1a', va='center', ha='left')

over.text(425, 443, 'Maximum templated insert size', fontsize=18, ha='center', va='center', color='black')
over.text(127, 194, 'Minimum templated insert size', fontsize=18, ha='center', va='center', rotation=90, color='black')
over.text(34, 635, 'Templated insert size', fontsize=17.7, ha='center', va='center', rotation=90, color='black')
over.text(580, 762, 'Events with three or more templated inserts', fontsize=18.1, ha='center', va='center', color='black')

# legend of panel A
over.text(647, 38, 'Insert', fontsize=18, va='center')
over.text(647, 63, 'Count', fontsize=18, va='center')
over.text(647, 237, 'Sub\u2212class', fontsize=18, va='center')
for y0, y1 in [(82, 124), (126, 168), (256, 298), (300, 342), (345, 387)]:
    over.add_patch(Rectangle((648, y0), 42, y1 - y0, color='#f2f2f2', lw=0))
over.scatter([669], [103], s=62, marker='o', color='#a2a2a2', linewidths=0)
over.scatter([669], [147], s=62, marker='o', color='#f4bb83', linewidths=0)
over.scatter([669], [277], s=48, marker='o', color='#808080', linewidths=0)
over.scatter([669], [321], s=100, marker='^', color='#808080', linewidths=0)
over.scatter([669], [365], s=68, marker='s', color='#808080', linewidths=0)
for y, t in [(103.5, '2'), (148.5, '3+'), (278.5, 'Ins Cycle'), (322.5, 'Ins Chain'), (366.5, 'Ins Bridge')]:
    over.text(696.5, y, t, fontsize=15, va='center', color='#1a1a1a')

# strips of panel B
for (x0, x1), t in zip(b_boxes, b_titles):
    over.add_patch(Rectangle((x0, 490), x1 - x0, 34, color='#d9d9d9', lw=0))
    over.text((x0 + x1) / 2, 511, t, fontsize=17.8, ha='center', va='center', color='#1a1a1a')

# pills and correlation text of panel C
for x0, y0, title, (p0, p1), pill_y, shift, corr in overlay_text:
    over.add_patch(FancyBboxPatch((p0, pill_y + 1), p1 - p0, 37,
                                  boxstyle='round,pad=0,rounding_size=18.5', mutation_aspect=1,
                                  fc='#b9cfe6', ec='#b9cfe6', lw=1))
    over.text((p0 + p1) / 2, pill_y + 19, title, fontsize=17.6, family='Lato', weight='heavy',
              ha='center', va='center', color='#1a1a1a')
    over.text(x0 + 13, y0 + 7 + shift, 'correlation:', fontsize=15, va='center', color='#111111')
    for k, line in enumerate(corr):
        over.text(x0 + 19, y0 + 29 + shift + 21.7 * k, line, fontsize=15, va='center', color='#111111')

fig.savefig('out.png', dpi=100)
